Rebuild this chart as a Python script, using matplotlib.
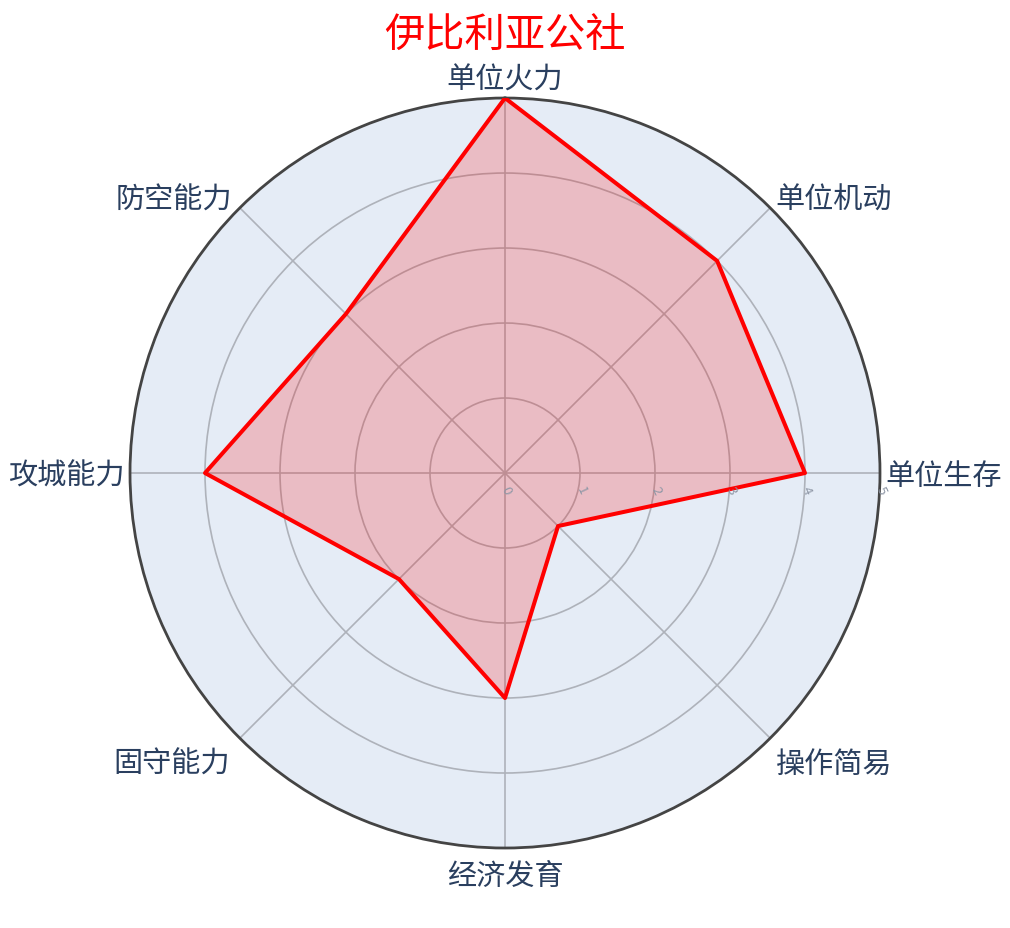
import numpy as np
import matplotlib
matplotlib.use("Agg")
import matplotlib.pyplot as plt

plt.rcParams['font.family'] = ['Noto Sans CJK SC', 'DejaVu Sans']

title = "伊比利亚公社"
categories = ["单位火力", "单位机动", "单位生存", "操作简易",
              "经济发育", "固守能力", "攻城能力", "防空能力"]
values = [5, 4, 4, 1, 3, 2, 4, 3]
radial_ticks = [0, 1, 2, 3, 4, 5]

label_color = '#2a3f5f'
grid_color = '#aeb2ba'

fig = plt.figure(figsize=(10.10, 9.29), dpi=100)
ax = fig.add_axes([0.1287, 0.0861, 0.7426, 0.8073], projection='polar')
ax.set_theta_offset(np.pi / 2)
ax.set_theta_direction(-1)
ax.set_facecolor('#E5ECF6')

n = len(categories)
angles = np.arange(n) * 2 * np.pi / n
ax.set_ylim(0, 5)

# grid
ax.set_xticks(angles)
ax.set_xticklabels([])
ax.set_yticks(radial_ticks[1:-1])
ax.set_yticklabels([])
ax.grid(color=grid_color, linewidth=1.2)
ax.spines['polar'].set_color('#444444')
ax.spines['polar'].set_linewidth(2)
ax.tick_params(length=0)

# data
a = np.append(angles, angles[0])
v = np.append(values, values[0])
ax.fill(a, v, color=(1, 0, 0, 0.2), zorder=3)
ax.plot(a, v, color='red', linewidth=2.9, zorder=4)

# category labels: offsets (points) from the outer ring
label_offsets = {0: (0, 2.5), 45: (3.6, 5.6), 90: (4, -2), 135: (4.3, -18.7),
                 180: (0, -9), 225: (-7.2, -18.7), 270: (-4, -2),
                 315: (-5.8, 5.6)}
for ang, lab in zip(angles, categories):
    deg = int(round(np.degrees(ang))) % 360
    s, c = np.sin(ang), np.cos(ang)
    ha = 'center' if abs(s) < 1e-6 else ('left' if s > 0 else 'right')
    if deg == 0:
        va = 'bottom'
    elif deg == 180:
        va = 'top'
    else:
        va = 'center'
    ax.annotate(lab, xy=(ang, 5), xytext=label_offsets[deg],
                textcoords='offset points', ha=ha, va=va, fontsize=21,
                color=label_color, zorder=5, annotation_clip=False)

# radial tick labels
for t in radial_ticks:
    ax.annotate(str(t), xy=(np.pi / 2, t), xytext=(1, -12),
                textcoords='offset points', ha='center', va='center',
                fontsize=9.5, color='#8f97a6', rotation=-65,
                fontstyle='italic', zorder=5, annotation_clip=False)

fig.text(0.5, 0.962, title, ha='center', va='center', fontsize=29,
         color='red')

fig.savefig('out.png', dpi=100, facecolor='white')
